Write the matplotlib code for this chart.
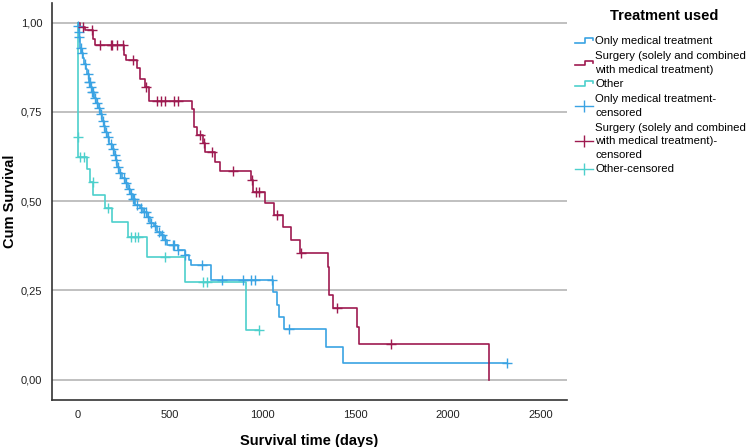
import numpy as np
import matplotlib.pyplot as plt
from matplotlib.lines import Line2D
from matplotlib.legend_handler import HandlerBase

plt.rcParams['font.family'] = ['Liberation Sans', 'DejaVu Sans']

# Only medical treatment: step times (days) and survival after each step
med_t = [0, 2, 5, 8, 11, 14, 20, 28, 36, 45, 52, 60, 68, 78, 90, 100, 110, 120, 130,
         140, 150, 160, 172, 184, 195, 205, 215, 225, 240, 255, 270, 285, 298, 312,
         335, 355, 375, 390, 410, 430, 450, 465, 480, 540, 580, 600, 610, 720, 1056,
         1074, 1087, 1114, 1340, 1430]
med_s = [1.0, 0.99, 0.975, 0.96, 0.945, 0.93, 0.915, 0.90, 0.885, 0.87, 0.855, 0.835,
         0.82, 0.805, 0.79, 0.775, 0.76, 0.745, 0.725, 0.71, 0.695, 0.68, 0.66, 0.645,
         0.63, 0.615, 0.595, 0.58, 0.565, 0.55, 0.535, 0.52, 0.505, 0.49, 0.48, 0.47,
         0.455, 0.44, 0.43, 0.415, 0.405, 0.39, 0.378, 0.364, 0.35, 0.336, 0.321,
         0.279, 0.246, 0.209, 0.175, 0.141, 0.092, 0.046]
med_end = 2320
med_cens = [3, 6, 10, 18, 25, 40, 55, 62, 66, 72, 80, 85, 95, 105, 115, 125, 135, 145,
            155, 165, 180, 190, 200, 210, 218, 230, 250, 262, 278, 290, 300, 305, 320,
            340, 360, 368, 380, 395, 420, 440, 455, 472, 516, 520, 543, 580, 670, 780,
            894, 935, 955, 1047, 1142, 2320]

# Surgery (solely and combined with medical treatment)
sur_t = [0, 12, 38, 85, 94, 250, 262, 322, 337, 364, 387, 616, 628, 643, 679, 688, 742,
         769, 938, 945, 1011, 1060, 1110, 1150, 1200, 1353, 1358, 1380, 1506, 1517, 2222]
sur_s = [1.0, 0.989, 0.979, 0.953, 0.937, 0.91, 0.895, 0.873, 0.842, 0.819, 0.781,
         0.757, 0.708, 0.685, 0.662, 0.638, 0.610, 0.585, 0.559, 0.526, 0.494, 0.461,
         0.428, 0.391, 0.356, 0.316, 0.237, 0.2, 0.148, 0.099, 0.0]
sur_end = 2222
sur_cens = [27, 79, 121, 180, 186, 214, 243, 300, 369, 427, 450, 471, 520, 543, 661,
            684, 724, 840, 940, 963, 981, 1074, 1204, 1401, 1691]

# Other
oth_t = [0, 1, 3, 52, 68, 85, 148, 184, 274, 373, 580, 907]
oth_s = [1.0, 0.68, 0.624, 0.59, 0.554, 0.517, 0.48, 0.442, 0.400, 0.343, 0.274, 0.139]
oth_end = 981
oth_cens = [2, 13, 34, 81, 165, 290, 308, 326, 472, 678, 700, 981]

c_med = '#3aa3e3'
c_sur = '#9e1a50'
c_oth = '#4dd0cc'


def surv_at(times, surv, t):
    i = np.searchsorted(times, t, side='right') - 1
    return np.array(surv)[i]


class StepHandler(HandlerBase):
    def create_artists(self, legend, orig_handle, xdescent, ydescent, width, height,
                       fontsize, trans):
        x0, x1 = -xdescent, -xdescent + width
        xm = x0 + width * 0.55
        ylo, yhi = -ydescent + height * 0.2, -ydescent + height * 0.75
        line = Line2D([x0, xm, xm, x1, x1], [ylo, ylo, yhi, yhi, yhi - height * 0.25],
                      color=orig_handle.get_color(), lw=1.2, transform=trans)
        return [line]


fig = plt.figure(figsize=(7.55, 4.47), dpi=100)
ax = fig.add_axes([0.0689, 0.1051, 0.6817, 0.8889])

groups = [(med_t, med_s, med_end, med_cens, c_med),
          (sur_t, sur_s, sur_end, sur_cens, c_sur),
          (oth_t, oth_s, oth_end, oth_cens, c_oth)]
for t, s, end, cens, col in groups:
    ax.step(t + [end], s + [s[-1]], where='post', color=col, lw=1.2, zorder=3)
    ax.plot(cens, surv_at(t, s, cens), ls='none', marker='+', ms=7, mew=1.0,
            color=col, zorder=4)

ax.set_xlim(-138, 2640)
ax.set_ylim(-0.057, 1.056)
ax.set_xticks([0, 500, 1000, 1500, 2000, 2500])
ax.set_yticks([0, 0.25, 0.5, 0.75, 1.0])
ax.set_yticklabels(['0,00', '0,25', '0,50', '0,75', '1,00'])
ax.tick_params(length=0, labelsize=8, pad=7, colors='#222222')
ax.yaxis.grid(True, color='#b5b5b5', lw=1.2)
ax.set_axisbelow(True)
for sp in ['top', 'right']:
    ax.spines[sp].set_visible(False)
for sp in ['left', 'bottom']:
    ax.spines[sp].set_color('#333333')
    ax.spines[sp].set_linewidth(1.2)

ax.set_ylabel('Cum Survival', fontsize=10.5, fontweight='bold')
ax.yaxis.set_label_coords(-0.068, 0.5)
ax.set_xlabel('Survival time (days)', fontsize=10.5, fontweight='bold', labelpad=10)

h_med = Line2D([], [], color=c_med)
h_sur = Line2D([], [], color=c_sur)
h_oth = Line2D([], [], color=c_oth)
hc_med = Line2D([], [], color=c_med, marker='|', ms=9, lw=1.0)
hc_sur = Line2D([], [], color=c_sur, marker='|', ms=9, lw=1.0)
hc_oth = Line2D([], [], color=c_oth, marker='|', ms=9, lw=1.0)
labels = ['Only medical treatment',
          'Surgery (solely and combined\nwith medical treatment)',
          'Other',
          'Only medical treatment-\ncensored',
          'Surgery (solely and combined\nwith medical treatment)-\ncensored',
          'Other-censored']
leg = fig.legend([h_med, h_sur, h_oth, hc_med, hc_sur, hc_oth], labels,
                 loc='upper left', bbox_to_anchor=(0.748, 0.942), frameon=False,
                 fontsize=8.2, handlelength=1.6,
                 handletextpad=0.2, labelspacing=0.42,
                 handler_map={h_med: StepHandler(), h_sur: StepHandler(),
                              h_oth: StepHandler()})
for txt in leg.get_texts():
    txt.set_linespacing(1.45)
fig.text(664 / 755, 1 - 16 / 447, 'Treatment used', ha='center', va='center',
         fontsize=10.5, fontweight='bold')

fig.savefig('out.png', dpi=100)
